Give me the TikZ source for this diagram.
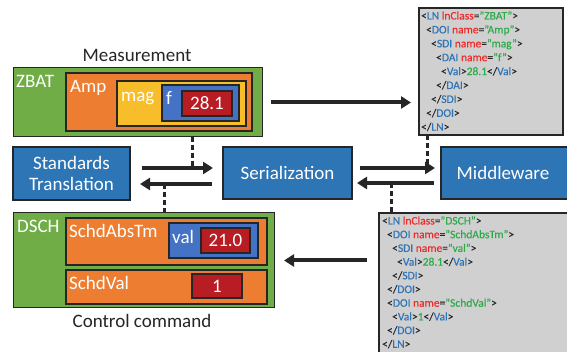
\documentclass[tikz,border=0pt]{standalone}
\usepackage{fontspec}
\setmainfont{Carlito}
\newfontfamily\xmlfont[FakeBold=0.3]{Carlito}
\usetikzlibrary{arrows.meta}
\definecolor{cgreen}{HTML}{70AD47}
\definecolor{corange}{HTML}{ED7D31}
\definecolor{cyellow}{HTML}{F8BD2A}
\definecolor{cblue}{HTML}{4472C4}
\definecolor{cred}{HTML}{B81D24}
\definecolor{cbox}{HTML}{2E75B6}
\definecolor{cgray}{HTML}{D0D0D0}
\definecolor{cdark}{HTML}{262626}
\definecolor{xblue}{HTML}{2E74B5}
\definecolor{xred}{HTML}{EE2A2A}
\definecolor{xgreen}{HTML}{2DAA4A}
\newcommand\xt[1]{\textcolor{xblue}{#1}}
\newcommand\xa[1]{\textcolor{xred}{#1}}
\newcommand\xv[1]{\textcolor{xgreen}{#1}}
\tikzset{
  box/.style={draw=cdark, line width=1.3pt, anchor=north west, inner sep=0pt, outer sep=0pt},
  bigf/.style={font=\fontsize{19}{22}\selectfont},
  lbl/.style={bigf, text=white, anchor=base west, inner sep=0pt},
  valbox/.style={box, fill=cred, bigf, text=white},
  procbox/.style={box, fill=cbox, bigf, text=white, align=center},
  xmlbox/.style={draw=cdark, line width=1.3pt, fill=cgray, anchor=north west, inner sep=0pt, outer sep=0pt},
  xl/.style={font=\xmlfont\fontsize{11.5}{13.9}\selectfont, text=cdark, anchor=base west, inner sep=0pt},
  arr/.style={line width=4pt, cdark, -{Triangle[length=10pt,width=12pt]}},
  dsh/.style={line width=3pt, cdark, dash pattern=on 5pt off 3pt}
}
\begin{document}
\begin{tikzpicture}[x=1pt,y=-1pt]
\clip (0,0) rectangle (567,352);
\fill[white] (0,0) rectangle (567,352);

% Measurement group
\node[bigf, text=cdark, anchor=base, inner sep=0pt] (meas) at (137,62) {Measurement};
\node[box, fill=cgreen, line width=1pt, minimum width=249pt, minimum height=69pt] (zbat) at (13,68) {};
\node[lbl] (zbatl) at (16,88) {ZBAT};
\node[box, fill=corange, minimum width=186pt, minimum height=58pt] (amp) at (66,73) {};
\node[lbl] (ampl) at (70,93) {Amp};
\node[box, fill=cyellow, minimum width=129pt, minimum height=45pt] (mag) at (117,81) {};
\node[lbl] (magl) at (121,102) {mag};
\node[box, fill=cblue, minimum width=77pt, minimum height=36pt] (f) at (162,85) {};
\node[lbl] (fl) at (166,105) {f};
\node[valbox, minimum width=50pt, minimum height=25pt] (v281) at (182,91) {28.1};

% Control command group
\node[box, fill=cgreen, line width=1pt, minimum width=261pt, minimum height=95pt] (dsch) at (13,213) {};
\node[lbl] (dschl) at (17,233) {DSCH};
\node[box, fill=corange, minimum width=201pt, minimum height=47pt] (sat) at (66,218) {};
\node[lbl] (satl) at (69,238) {SchdAbsTm};
\node[box, fill=cblue, minimum width=89pt, minimum height=35pt] (val) at (169,223) {};
\node[lbl] (vall) at (172,244) {val};
\node[valbox, minimum width=49pt, minimum height=25pt] (v210) at (201,228) {21.0};
\node[box, fill=corange, minimum width=201pt, minimum height=34pt] (sv) at (66,270) {};
\node[lbl] (svl) at (69,290) {SchdVal};
\node[valbox, minimum width=50pt, minimum height=24pt] (v1) at (192,274) {1};
\node[bigf, text=cdark, anchor=base, inner sep=0pt] (ctrl) at (142,327) {Control command};

% Process boxes
\node[procbox, minimum width=117pt, minimum height=53pt] (st) at (13,147) {Standards\\[-1pt]Translation};
\node[procbox, minimum width=129pt, minimum height=52pt] (se) at (223,147) {Serialization};
\node[box, fill=cbox, minimum width=135pt, minimum height=52pt] (mw) at (441,147) {};
\node[lbl, anchor=base] (mwl) at (503,180) {Middleware};

% XML box 1
\node[xmlbox, minimum width=144pt, minimum height=127pt] (x1) at (419,8) {};
\node[xl] (a1) at (421,19.5) {<\xt{LN} \xa{lnClass}=\xv{”ZBAT”}>};
\node[xl] (a2) at (426,33.4) {<\xt{DOI} \xa{name}=\xv{”Amp”}>};
\node[xl] (a3) at (431,47.3) {<\xt{SDI} \xa{name}=\xv{”mag”}>};
\node[xl] (a4) at (436,61.2) {<\xt{DAI} \xa{name}=\xv{”f”}>};
\node[xl] (a5) at (441,75.1) {<\xt{Val}>\xv{28.1}</\xt{Val}>};
\node[xl] (a6) at (436,89.0) {</\xt{DAI}>};
\node[xl] (a7) at (431,102.9) {</\xt{SDI}>};
\node[xl] (a8) at (426,116.8) {</\xt{DOI}>};
\node[xl] (a9) at (421,130.7) {</\xt{LN}>};

% XML box 2
\node[xmlbox, minimum width=200pt, minimum height=150pt] (x2) at (379,213) {};
\node[xl] (b1) at (382,224.5) {<\xt{LN} \xa{lnClass}=\xv{”DSCH”}>};
\node[xl] (b2) at (387,238.2) {<\xt{DOI} \xa{name}=\xv{”SchdAbsTm”}>};
\node[xl] (b3) at (392,251.9) {<\xt{SDI} \xa{name}=\xv{”val”}>};
\node[xl] (b4) at (397,265.6) {<\xt{Val}>\xv{28.1}</\xt{Val}>};
\node[xl] (b5) at (392,279.3) {</\xt{SDI}>};
\node[xl] (b6) at (387,293.0) {</\xt{DOI}>};
\node[xl] (b7) at (387,306.7) {<\xt{DOI} \xa{name}=\xv{”SchdVal”}>};
\node[xl] (b8) at (392,320.4) {<\xt{Val}>\xv{1}</\xt{Val}>};
\node[xl] (b9) at (387,334.1) {</\xt{DOI}>};
\node[xl] (b10) at (382,347.8) {</\xt{LN}>};

% Arrows
\draw[arr, shorten <=9pt, shorten >=8pt] (zbat.east) -- (zbat.east -| x1.west);
\draw[arr, shorten <=12pt, shorten >=10pt] ([yshift=5.5pt]st.east) -- ([yshift=5.5pt]st.east -| se.west);
\draw[arr, shorten <=11pt, shorten >=10pt] ([yshift=-10.5pt]st.east -| se.west) -- ([yshift=-10.5pt]st.east);
\draw[arr, shorten <=8pt, shorten >=6pt] ([yshift=5pt]se.east) -- ([yshift=5pt]se.east -| mw.west);
\draw[arr, shorten <=7pt, shorten >=5pt] ([yshift=-10pt]se.east -| mw.west) -- ([yshift=-10pt]se.east);
\draw[arr, shorten <=12pt, shorten >=10pt] (dsch.east -| x2.west) -- (dsch.east);

% Dashed links
\coordinate (d1a) at (192,137); \coordinate (d1b) at (192,168);
\coordinate (d2a) at (164,184); \coordinate (d2b) at (164,213);
\coordinate (d3a) at (427,135); \coordinate (d3b) at (427,168);
\coordinate (d4a) at (391,183); \coordinate (d4b) at (391,213);
\draw[dsh] (d1a) -- (d1b);
\draw[dsh] (d2a) -- (d2b);
\draw[dsh] (d3a) -- (d3b);
\draw[dsh] (d4a) -- (d4b);
\end{tikzpicture}
\end{document}
